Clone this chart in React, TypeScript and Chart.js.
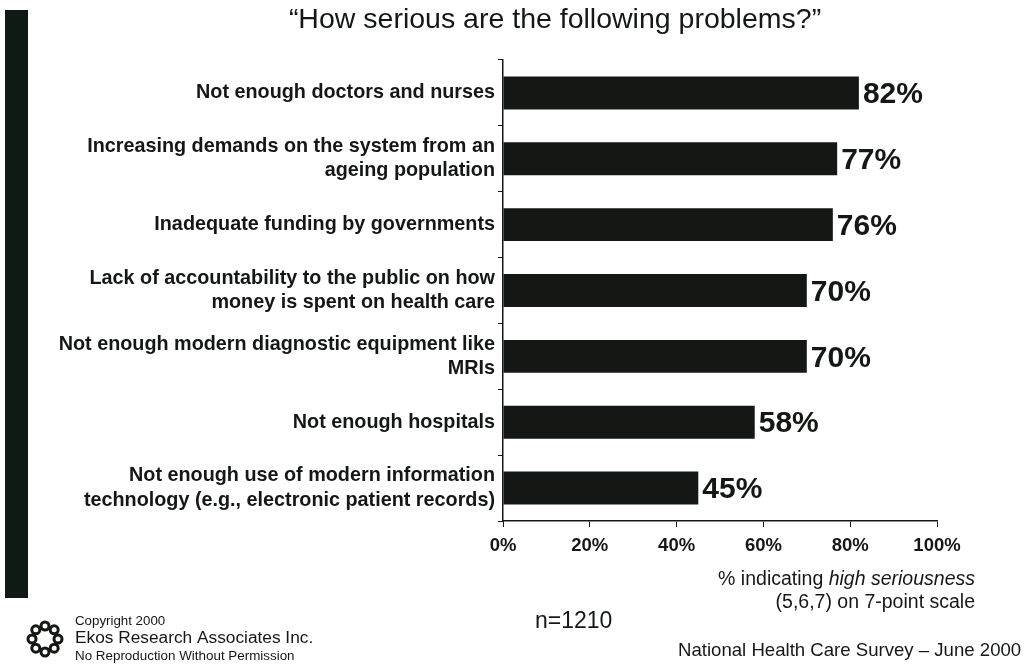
import React, { useEffect, useRef } from "react";
import { Chart, registerables } from "chart.js";

Chart.register(...registerables);

const categories: string[][] = [
  ["Not enough doctors and nurses"],
  ["Increasing demands on the system from an", "ageing population"],
  ["Inadequate funding by governments"],
  ["Lack of accountability to the public on how", "money is spent on health care"],
  ["Not enough modern diagnostic equipment like", "MRIs"],
  ["Not enough hospitals"],
  ["Not enough use of modern information", "technology (e.g., electronic patient records)"],
];
const values: number[] = [82, 77, 76, 70, 70, 58, 45];
const xTicks: number[] = [0, 20, 40, 60, 80, 100];

const FONT = "'Liberation Sans', Arial, sans-serif";
const INK = "#141815";

const decorPlugin = {
  id: "decor",
  beforeDraw(chart: any) {
    const ctx = chart.ctx;
    ctx.save();
    ctx.fillStyle = "#ffffff";
    ctx.fillRect(0, 0, chart.width, chart.height);
    ctx.restore();
  },
  afterDraw(chart: any) {
    const ctx = chart.ctx;
    ctx.save();
    // left stripe
    ctx.fillStyle = "#0f1a13";
    ctx.fillRect(5, 10, 23, 588);

    // title
    ctx.fillStyle = INK;
    ctx.textAlign = "center";
    ctx.textBaseline = "middle";
    ctx.font = `28.5px ${FONT}`;
    ctx.fillText("\u201CHow serious are the following problems?\u201D", 555, 20);

    // value labels
    const meta = chart.getDatasetMeta(0);
    ctx.font = `bold 30px ${FONT}`;
    ctx.textAlign = "left";
    meta.data.forEach((bar: any, i: number) => {
      ctx.fillText(`${values[i]}%`, bar.x + 4, bar.y + 2);
    });

    // axis note
    ctx.textAlign = "right";
    const l1b = "high seriousness";
    ctx.font = `italic 19.5px ${FONT}`;
    const wItal = ctx.measureText(l1b).width;
    ctx.fillText(l1b, 975, 580);
    ctx.font = `19.5px ${FONT}`;
    ctx.fillText("% indicating ", 975 - wItal, 580);
    ctx.fillText("(5,6,7) on 7-point scale", 975, 603);

    // n
    ctx.textAlign = "left";
    ctx.font = `23px ${FONT}`;
    ctx.fillText("n=1210", 535, 622);

    // source
    ctx.font = `18.6px ${FONT}`;
    ctx.fillText("National Health Care Survey \u2013 June 2000", 678, 651);

    // copyright block
    ctx.font = `13.3px ${FONT}`;
    ctx.fillText("Copyright 2000", 75, 621);
    ctx.font = `17.3px ${FONT}`;
    ctx.fillText("Ekos Research Associates Inc.", 75, 638);
    ctx.font = `13.4px ${FONT}`;
    ctx.fillText("No Reproduction Without Permission", 75, 656);

    // logo
    ctx.strokeStyle = INK;
    ctx.fillStyle = INK;
    const cx = 45, cy = 639;
    ctx.lineWidth = 3;
    for (let k = 0; k < 8; k++) {
      const a = (k / 8) * Math.PI * 2;
      const px = cx + Math.cos(a) * 13;
      const py = cy + Math.sin(a) * 13;
      ctx.beginPath();
      ctx.arc(px, py, 4, 0, Math.PI * 2);
      ctx.stroke();
    }
    ctx.restore();
  },
};

export default function App() {
  const ref = useRef<HTMLCanvasElement | null>(null);
  useEffect(() => {
    document.body.style.margin = "0";
    const chart = new Chart(ref.current as HTMLCanvasElement, {
      type: "bar",
      data: {
        labels: categories,
        datasets: [
          {
            data: values,
            backgroundColor: INK,
            borderWidth: 0,
            barPercentage: 0.5,
            categoryPercentage: 1,
          },
        ],
      },
      options: {
        indexAxis: "y",
        responsive: false,
        animation: false,
        layout: { padding: { top: 60, right: 95, left: 0, bottom: 0 } },
        plugins: { legend: { display: false }, tooltip: { enabled: false }, title: { display: false } },
        scales: {
          x: {
            min: 0,
            max: 100,
            afterFit: (s: any) => {
              s.height = 147;
            },
            afterBuildTicks: (s: any) => {
              s.ticks = xTicks.map((v) => ({ value: v }));
            },
            grid: {
              drawOnChartArea: false,
              drawTicks: true,
              tickLength: 6,
              color: INK,
            },
            border: { display: true, color: INK, width: 1.5 },
            ticks: {
              color: INK,
              padding: 8,
              font: { family: FONT, size: 18.5, weight: "bold" },
              callback: (v: any) => `${v}%`,
            },
          },
          y: {
            afterFit: (s: any) => {
              s.width = 503;
            },
            grid: { drawOnChartArea: false, drawTicks: true, tickLength: 5, color: INK, offset: true },
            border: { display: true, color: INK, width: 1.5 },
            ticks: {
              color: INK,
              padding: 3,
              font: { family: FONT, size: 19.8, weight: "bold", lineHeight: 1.22 },
            },
          },
        },
      },
      plugins: [decorPlugin],
    });
    return () => chart.destroy();
  }, []);
  return (
    <div style={{ position: "fixed", left: 0, top: 0, width: 1032, height: 668 }}>
      <canvas ref={ref} width={1032} height={668} />
    </div>
  );
}
